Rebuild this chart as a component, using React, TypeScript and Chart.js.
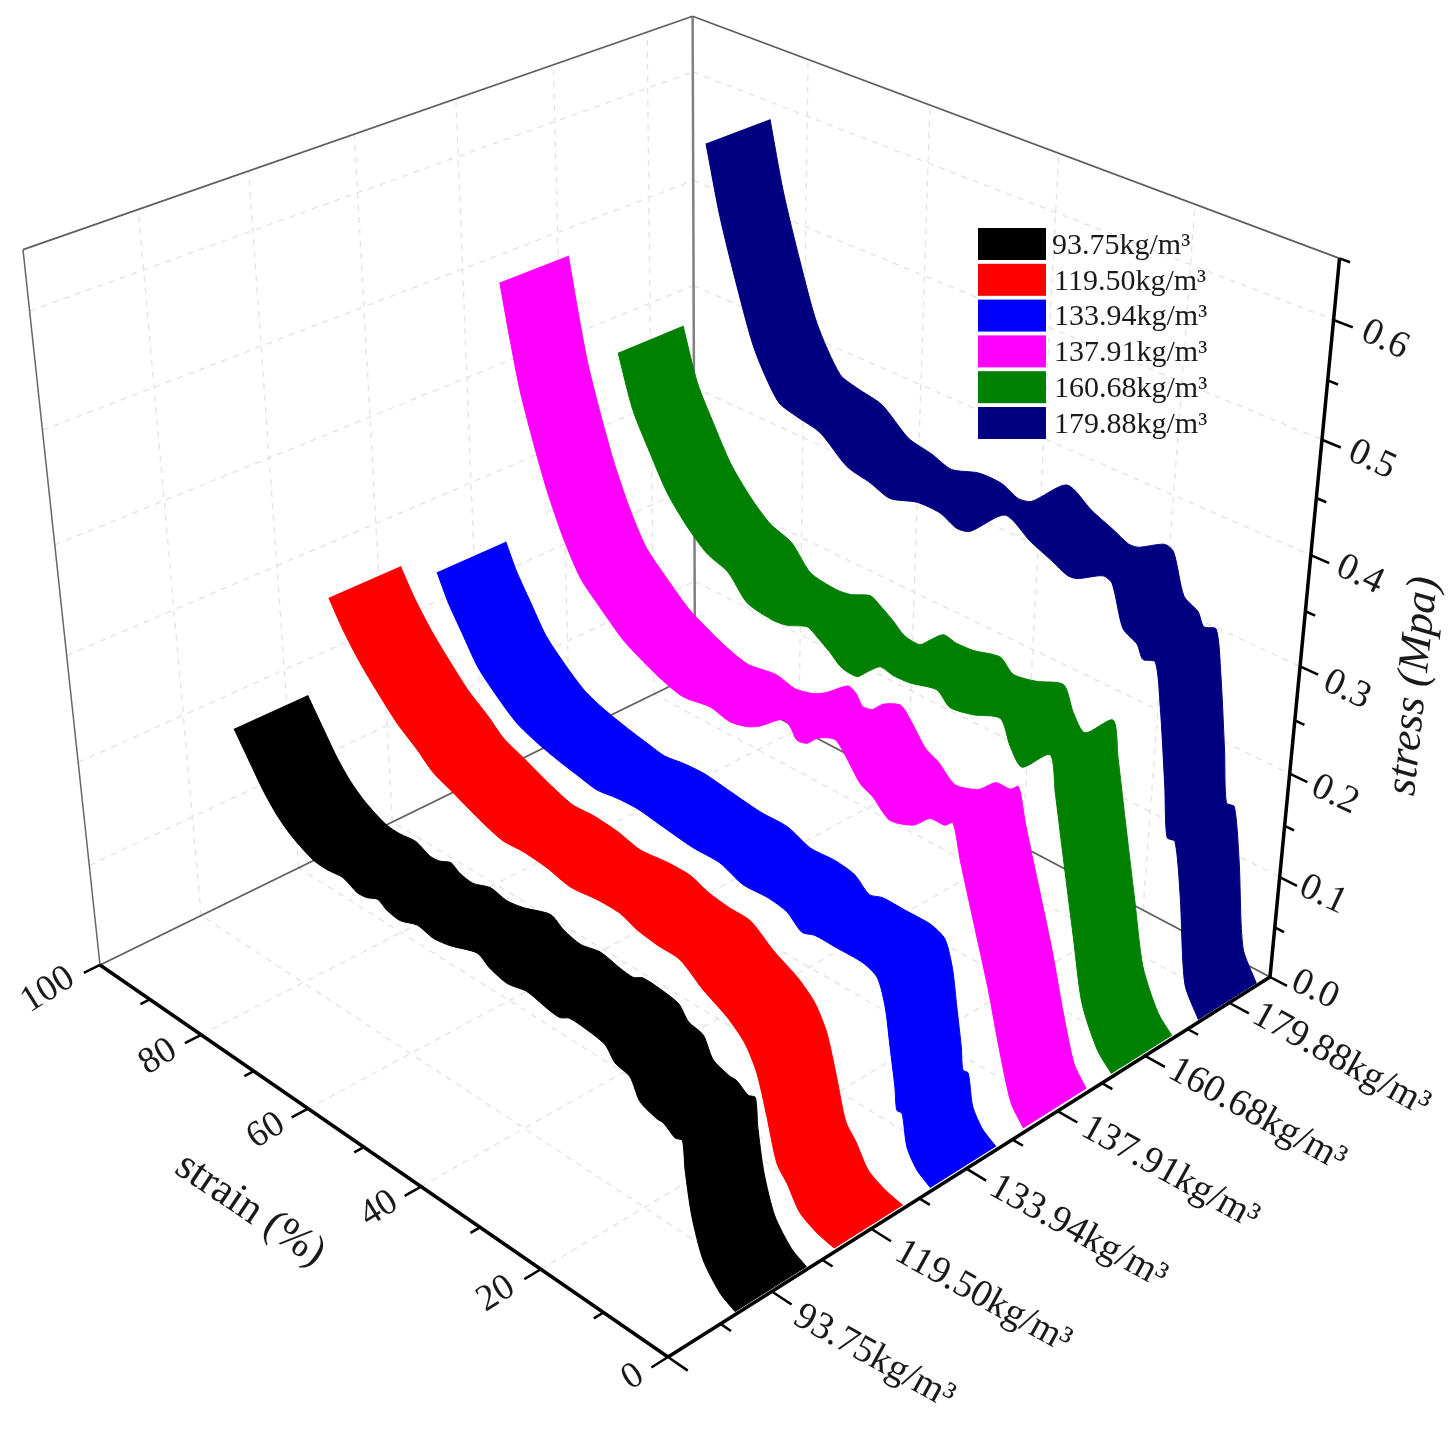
import { useEffect, useRef } from 'react';
import { Chart, registerables } from 'chart.js';

Chart.register(...registerables);

const densities = ['93.75kg/m³', '119.50kg/m³', '133.94kg/m³', '137.91kg/m³', '160.68kg/m³', '179.88kg/m³'];
const colors = ['#000000', '#ff0000', '#0000ff', '#ff00ff', '#008000', '#000080'];

// strain (%) and stress (MPa)
const strain93 = [82.2, 79.6, 77.5, 75.2, 72.6, 68.9, 66.4, 63.6, 61.1, 59.4, 57.4, 55.9, 53.6, 50.6, 47.9, 45.0, 40.4, 38.3, 35.5, 32.3, 29.0, 27.0, 25.4, 22.2, 19.8, 18.3, 16.0, 14.5, 11.9, 10.9, 9.1, 8.0, 7.6, 6.6, 4.9, 2.3, 0];
const stress93 = [0.257, 0.233, 0.214, 0.198, 0.186, 0.176, 0.175, 0.177, 0.171, 0.172, 0.177, 0.172, 0.170, 0.176, 0.173, 0.176, 0.185, 0.178, 0.174, 0.178, 0.174, 0.173, 0.178, 0.177, 0.174, 0.163, 0.159, 0.142, 0.136, 0.136, 0.129, 0.131, 0.105, 0.066, 0.032, 0.011, 0.003];
const strain119 = [82.6, 80.3, 77.5, 74.5, 71.2, 67.8, 65.1, 61.7, 57.6, 53.3, 49.7, 45.7, 41.9, 37.4, 33.7, 30.9, 27.6, 24.1, 20.5, 16.7, 14.0, 12.1, 10.5, 8.9, 7.3, 5.3, 2.6, 0];
const stress119 = [0.334, 0.311, 0.289, 0.270, 0.251, 0.237, 0.224, 0.216, 0.206, 0.198, 0.199, 0.197, 0.192, 0.195, 0.195, 0.189, 0.186, 0.185, 0.170, 0.158, 0.144, 0.123, 0.088, 0.050, 0.037, 0.017, 0.008, 0.004];
const strain133 = [81.4, 79.6, 77.3, 74.6, 71.3, 67.9, 64.4, 60.4, 56.9, 54.0, 50.6, 47.2, 43.4, 38.0, 33.6, 29.9, 26.0, 22.9, 20.5, 18.5, 15.1, 11.1, 8.9, 7.6, 6.7, 5.8, 5.4, 4.6, 3.7, 2.1, 0];
const stress133 = [0.320, 0.297, 0.275, 0.250, 0.232, 0.217, 0.209, 0.203, 0.199, 0.196, 0.199, 0.200, 0.197, 0.193, 0.193, 0.185, 0.186, 0.183, 0.172, 0.176, 0.176, 0.176, 0.170, 0.147, 0.113, 0.079, 0.058, 0.058, 0.029, 0.013, 0.004];
const strain137 = [86.3, 84.8, 83.3, 81.4, 79.0, 76.3, 73.4, 70.5, 66.0, 63.1, 59.6, 55.7, 51.1, 47.8, 44.9, 42.8, 39.2, 37.9, 36.8, 35.2, 33.5, 30.8, 29.2, 26.7, 24.7, 22.0, 18.4, 15.9, 13.7, 12.5, 11.2, 8.9, 6.3, 4.0, 2.0, 0];
const stress137 = [0.532, 0.485, 0.443, 0.405, 0.363, 0.326, 0.296, 0.280, 0.258, 0.249, 0.240, 0.234, 0.238, 0.234, 0.238, 0.245, 0.262, 0.259, 0.250, 0.252, 0.262, 0.269, 0.260, 0.241, 0.235, 0.222, 0.229, 0.243, 0.244, 0.250, 0.220, 0.172, 0.118, 0.063, 0.022, 0.005];
const strain160 = [82.7, 80.2, 77.3, 74.3, 70.8, 67.4, 63.7, 60.4, 56.0, 53.6, 50.3, 48.6, 46.5, 44.5, 42.0, 40.4, 38.3, 36.2, 33.5, 29.3, 27.2, 23.6, 19.5, 17.8, 15.9, 11.9, 10.8, 9.2, 6.9, 5.0, 2.3, 0];
const stress160 = [0.443, 0.396, 0.364, 0.334, 0.311, 0.295, 0.287, 0.267, 0.263, 0.265, 0.273, 0.268, 0.260, 0.251, 0.250, 0.259, 0.270, 0.268, 0.269, 0.275, 0.265, 0.269, 0.278, 0.257, 0.244, 0.268, 0.236, 0.185, 0.113, 0.055, 0.019, 0.004];
const strain179 = [83.7, 81.3, 78.3, 75.2, 71.1, 67.9, 63.9, 59.3, 55.4, 52.1, 47.7, 44.0, 41.2, 39.1, 33.8, 29.8, 26.2, 24.0, 22.5, 18.7, 17.3, 15.3, 13.1, 12.1, 10.3, 9.1, 7.6, 6.7, 5.5, 4.1, 2.4, 0];
const stress179 = [0.595, 0.535, 0.478, 0.427, 0.389, 0.383, 0.378, 0.358, 0.353, 0.347, 0.355, 0.355, 0.348, 0.351, 0.380, 0.367, 0.358, 0.352, 0.353, 0.366, 0.363, 0.328, 0.320, 0.309, 0.312, 0.274, 0.205, 0.159, 0.159, 0.110, 0.030, 0.003];

const strains = [strain93, strain119, strain133, strain137, strain160, strain179];
const stresses = [stress93, stress119, stress133, stress137, stress160, stress179];

const strainTicks = [0, 20, 40, 60, 80, 100];
const stressTicks = [0, 0.1, 0.2, 0.3, 0.4, 0.5, 0.6];
const STRAIN_MAX = 100;
const STRESS_MAX = 0.65;
const CATEGORY_MAX = 6.5;

// Ribbon extent along the density axis, as a fraction of the axis
const ribbonStart = [0.0985, 0.2493, 0.402, 0.5562, 0.7084, 0.8653];
const RIBBON_WIDTH = 0.108;

// Perspective camera of the 3D box, fitted to the box corners
const camera = [
  [-552.67, 788.03, -91.75, 668],
  [-244.05, -236.89, -857, 1357],
  [0.15332, 0.14648, -0.128, 1],
];

// s, d, z are 0..1 along strain, density and stress
function project(s: number, d: number, z: number) {
  const [a, b, c] = camera.map((r) => r[0] * s + r[1] * d + r[2] * z + r[3]);
  return { x: a / c, y: b / c };
}

type P3 = [number, number, number];
const GAP = { x: null, y: null };
function segments(list: [P3, P3][]) {
  const out: any[] = [];
  list.forEach(([a, b]) => out.push(project(...a), project(...b), GAP));
  return out;
}

function lineSet(data: any[], color: string, width: number, dash: number[] = []) {
  return { data, borderColor: color, borderWidth: width, borderDash: dash, pointRadius: 0, showLine: true, fill: false, tension: 0 };
}

const gridSteps = (max: number, ticks: number[]) => ticks.filter((t) => t > 0).map((t) => t / max);

function buildGrid() {
  const ss = gridSteps(STRAIN_MAX, strainTicks.slice(0, -1));
  const zs = gridSteps(STRESS_MAX, stressTicks);
  const ds = densities.map((_, i) => (i + 1) / CATEGORY_MAX);
  const list: [P3, P3][] = [];
  ss.forEach((s) => {
    list.push([[s, 0, 0], [s, 1, 0]]);
    list.push([[s, 1, 0], [s, 1, 1]]);
  });
  ds.forEach((d) => {
    list.push([[0, d, 0], [1, d, 0]]);
    list.push([[1, d, 0], [1, d, 1]]);
  });
  zs.forEach((z) => {
    list.push([[1, 0, z], [1, 1, z]]);
    list.push([[1, 1, z], [0, 1, z]]);
  });
  return segments(list);
}

function buildTicks() {
  const list: [P3, P3][] = [];
  for (let v = 0; v <= 100; v += 10) {
    const len = v % 20 === 0 ? 0.024 : 0.014;
    list.push([[v / 100, 0, 0], [v / 100, -len, 0]]);
  }
  for (let k = 0; k <= 13; k++) {
    const len = k % 2 === 0 ? 0.03 : 0.016;
    const d = k / 2 / CATEGORY_MAX;
    list.push([[0, d, 0], [-len, d, 0]]);
  }
  for (let k = 0; k <= 13; k++) {
    const len = k % 2 === 0 ? 0.026 : 0.014;
    const z = (k * 0.05) / STRESS_MAX;
    list.push([[0, 1, z], [-len, 1, z]]);
  }
  return segments(list);
}

function ribbon(i: number) {
  const from = ribbonStart[i];
  const to = from + RIBBON_WIDTH;
  const at = (d: number, j: number) => project(strains[i][j] / STRAIN_MAX, d, stresses[i][j] / STRESS_MAX);
  const front = strains[i].map((_, j) => at(from, j));
  const back = strains[i].map((_, j) => at(to, j)).reverse();
  // the doubled points keep the ribbon's foot square under the curve smoothing
  return {
    data: [...front, front[front.length - 1], back[0], ...back],
    borderColor: colors[i],
    backgroundColor: colors[i],
    borderWidth: 1,
    pointRadius: 0,
    showLine: true,
    fill: 'shape',
    tension: 0.25,
  };
}

const SERIF = '"Liberation Serif", serif';
const TEXT = '#1a1a1a';

const strainLabelPos = [[633, 1377], [496, 1294], [379, 1209], [266, 1131], [158, 1057], [48, 990]];
const densityLabelPos = [[874, 1357], [983, 1297], [1078, 1232], [1170, 1173], [1257, 1115], [1341, 1060]];
const stressLabelPos = [[1315, 990], [1323, 895], [1335, 795], [1347, 690], [1360, 575], [1372, 460], [1385, 340]];

const textPlugin = {
  id: 'boxText',
  afterDraw(chart: any) {
    const ctx = chart.ctx;
    const put = (text: string, x: number, y: number, deg: number, font: string) => {
      ctx.save();
      ctx.translate(x, y);
      ctx.rotate((deg * Math.PI) / 180);
      ctx.font = font;
      ctx.fillStyle = TEXT;
      ctx.textAlign = 'center';
      ctx.textBaseline = 'middle';
      ctx.fillText(text, 0, 0);
      ctx.restore();
    };
    strainTicks.forEach((t, i) => put(String(t), strainLabelPos[i][0], strainLabelPos[i][1], -32, `37px ${SERIF}`));
    densities.forEach((t, i) => put(t, densityLabelPos[i][0], densityLabelPos[i][1], 29, `38.5px ${SERIF}`));
    stressTicks.forEach((t, i) => put(t.toFixed(1), stressLabelPos[i][0], stressLabelPos[i][1], 25, `38px ${SERIF}`));
    put('strain (%)', 250, 1210, 34, `43px ${SERIF}`);
    put('stress (Mpa)', 1414, 686, -84, `italic 44px ${SERIF}`);

    // legend
    densities.forEach((t, i) => {
      const top = 228 + i * 35.8;
      ctx.fillStyle = colors[i];
      ctx.fillRect(978, top, 68, 32);
      ctx.font = `30px ${SERIF}`;
      ctx.fillStyle = TEXT;
      ctx.textAlign = 'left';
      ctx.textBaseline = 'middle';
      ctx.fillText(t, i === 0 ? 1052 : 1054, top + 18);
    });
  },
};

export default function App() {
  const canvasRef = useRef<HTMLCanvasElement>(null);

  useEffect(() => {
    if (!canvasRef.current) return;
    const chart = new Chart(canvasRef.current, {
      type: 'scatter',
      data: {
        datasets: [
          ...densities.map((_, i) => ribbon(i)),
          lineSet(segments([[[0, 0, 0], [1, 0, 0]], [[0, 0, 0], [0, 1, 0]], [[0, 1, 0], [0, 1, 1]]]), '#000000', 3.5),
          lineSet(buildTicks(), '#000000', 2.5),
          lineSet(segments([[[1, 0, 0], [1, 1, 0]], [[1, 1, 0], [0, 1, 0]], [[1, 0, 1], [1, 1, 1]], [[1, 1, 1], [0, 1, 1]]]), '#5e5e5e', 1.8),
          lineSet(segments([[[1, 1, 0], [1, 1, 1]]]), '#808080', 2.5),
          lineSet(segments([[[1, 0, 0], [1, 0, 1]]]), '#666666', 1.5),
          lineSet(buildGrid(), '#e2e2e2', 1.3, [6, 6]),
        ] as any,
      },
      options: {
        animation: false,
        responsive: false,
        layout: { padding: 0 },
        plugins: { legend: { display: false }, tooltip: { enabled: false } },
        scales: {
          x: { type: 'linear', min: 0, max: 1454, display: false },
          y: { type: 'linear', min: 0, max: 1430, reverse: true, display: false },
        },
      },
      plugins: [textPlugin],
    });
    return () => chart.destroy();
  }, []);

  return (
    <div style={{ position: 'absolute', left: 0, top: 0, background: '#fff' }}>
      <canvas ref={canvasRef} width={1454} height={1430} style={{ display: 'block' }} />
    </div>
  );
}
